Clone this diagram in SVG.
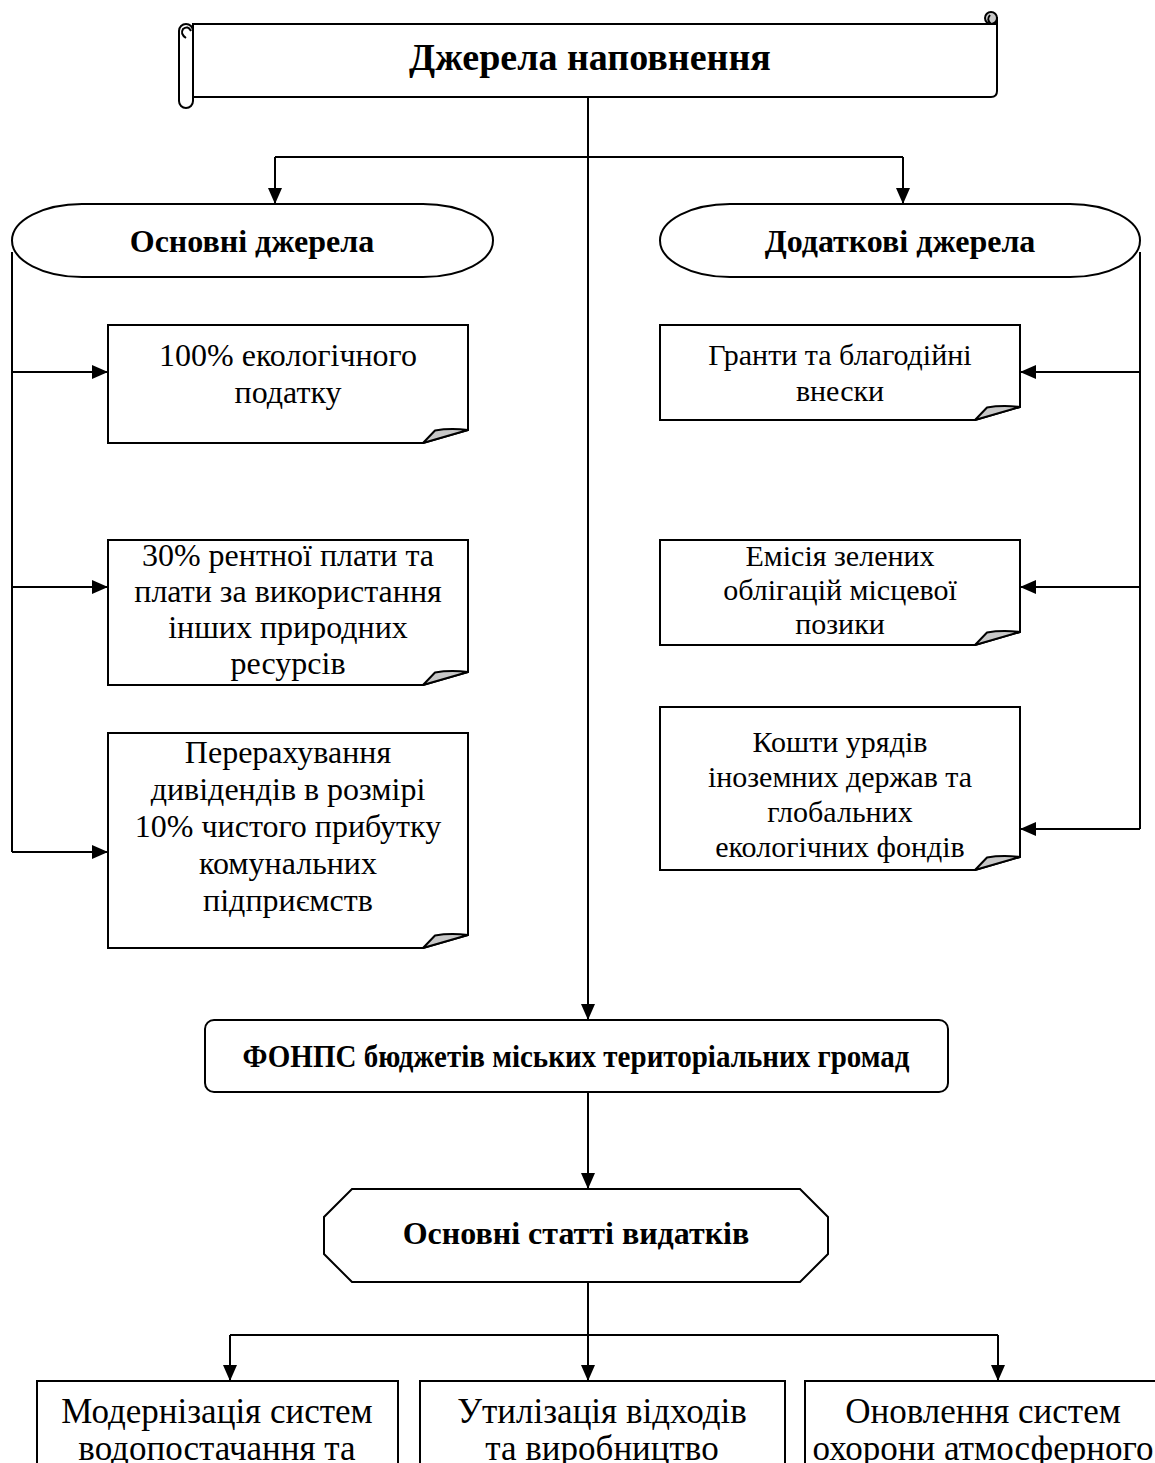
<svg xmlns="http://www.w3.org/2000/svg" width="1155" height="1463" viewBox="0 0 1155 1463">
<style>
.s{fill:#fff;stroke:#000;stroke-width:2}
.fl{fill:#c8c8c8;stroke:#000;stroke-width:2;stroke-linejoin:round}
.c{fill:none;stroke:#000;stroke-width:2}
.t{font-family:"Liberation Serif","Times New Roman",serif;font-size:30px;text-anchor:middle;fill:#000}
.tl{font-size:32px}
.tb{font-size:35px}
.b{font-family:"Liberation Serif","Times New Roman",serif;font-weight:bold;text-anchor:middle;fill:#000}
</style>
<defs>
<marker id="ar" markerUnits="userSpaceOnUse" markerWidth="16" markerHeight="14" refX="16" refY="7" orient="auto">
<path d="M0,0 L16,7 L0,14 Z" fill="#000"/>
</marker>
</defs>
<g id="connectors">
<path class="c" d="M588,97 V1020" marker-end="url(#ar)"/>
<path class="c" d="M275,157 H903"/>
<path class="c" d="M275,157 V204" marker-end="url(#ar)"/>
<path class="c" d="M903,157 V204" marker-end="url(#ar)"/>
<path class="c" d="M12,252 V852"/>
<path class="c" d="M12,372 H108" marker-end="url(#ar)"/>
<path class="c" d="M12,587 H108" marker-end="url(#ar)"/>
<path class="c" d="M12,852 H108" marker-end="url(#ar)"/>
<path class="c" d="M1140,252 V829"/>
<path class="c" d="M1140,372 H1020" marker-end="url(#ar)"/>
<path class="c" d="M1140,587 H1020" marker-end="url(#ar)"/>
<path class="c" d="M1140,829 H1020" marker-end="url(#ar)"/>
<path class="c" d="M588,1092 V1189" marker-end="url(#ar)"/>
<path class="c" d="M588,1282 V1335"/>
<path class="c" d="M230,1335 H998"/>
<path class="c" d="M230,1335 V1381" marker-end="url(#ar)"/>
<path class="c" d="M588,1335 V1381" marker-end="url(#ar)"/>
<path class="c" d="M998,1335 V1381" marker-end="url(#ar)"/>
</g>
<g id="title">
<path class="s" d="M193,24 H991 V18 H997 V91 Q997,97 991,97 H193 Z"/>
<line class="c" x1="991" y1="24" x2="997" y2="24"/>
<circle cx="991" cy="18" r="6" class="fl"/>
<path class="c" d="M991,24 Q986,20 990,15"/>
<rect class="s" x="179" y="24" width="14" height="84" rx="7"/>
<path class="c" d="M186,38 Q180,34 183,29 Q188,25 191,31"/>
<text class="b" x="590" y="70" font-size="38">Джерела наповнення</text>
</g>
<g id="main-sources">
<rect class="s" x="12" y="204" width="481" height="73" rx="70" ry="36.5"/>
<text class="b" x="252" y="252" font-size="32">Основні джерела</text>
</g>
<g id="extra-sources">
<rect class="s" x="660" y="204" width="480" height="73" rx="70" ry="36.5"/>
<text class="b" x="900" y="252" font-size="32">Додаткові джерела</text>
</g>
<g id="l1">
<path class="s" d="M108,325 H468 V430 L423,443 H108 Z"/>
<path class="fl" d="M423,443 L435,430.5 Q450,428 468,430 Z"/>
<text class="t tl" x="288" y="366">100% екологічного</text>
<text class="t tl" x="288" y="403">податку</text>
</g>
<g id="l2">
<path class="s" d="M108,540 H468 V672 L423,685 H108 Z"/>
<path class="fl" d="M423,685 L435,672.5 Q450,670 468,672 Z"/>
<text class="t tl" x="288" y="566">30% рентної плати та</text>
<text class="t tl" x="288" y="602">плати за використання</text>
<text class="t tl" x="288" y="638">інших природних</text>
<text class="t tl" x="288" y="674">ресурсів</text>
</g>
<g id="l3">
<path class="s" d="M108,733 H468 V935 L423,948 H108 Z"/>
<path class="fl" d="M423,948 L435,935.5 Q450,933 468,935 Z"/>
<text class="t tl" x="288" y="763">Перерахування</text>
<text class="t tl" x="288" y="800">дивідендів в розмірі</text>
<text class="t tl" x="288" y="837">10% чистого прибутку</text>
<text class="t tl" x="288" y="874">комунальних</text>
<text class="t tl" x="288" y="911">підприємств</text>
</g>
<g id="r1">
<path class="s" d="M660,325 H1020 V407 L975,420 H660 Z"/>
<path class="fl" d="M975,420 L987,407.5 Q1002,405 1020,407 Z"/>
<text class="t" x="840" y="365">Гранти та благодійні</text>
<text class="t" x="840" y="401">внески</text>
</g>
<g id="r2">
<path class="s" d="M660,540 H1020 V632 L975,645 H660 Z"/>
<path class="fl" d="M975,645 L987,632.5 Q1002,630 1020,632 Z"/>
<text class="t" x="840" y="566">Емісія зелених</text>
<text class="t" x="840" y="600">облігацій місцевої</text>
<text class="t" x="840" y="634">позики</text>
</g>
<g id="r3">
<path class="s" d="M660,707 H1020 V857 L975,870 H660 Z"/>
<path class="fl" d="M975,870 L987,857.5 Q1002,855 1020,857 Z"/>
<text class="t" x="840" y="752">Кошти урядів</text>
<text class="t" x="840" y="787">іноземних держав та</text>
<text class="t" x="840" y="822">глобальних</text>
<text class="t" x="840" y="857">екологічних фондів</text>
</g>
<g id="fonps">
<rect class="s" x="205" y="1020" width="743" height="72" rx="9"/>
<text class="b" x="576" y="1067" font-size="31" textLength="667" lengthAdjust="spacingAndGlyphs">ФОНПС бюджетів міських територіальних громад</text>
</g>
<g id="expenses">
<polygon class="s" points="352,1189 800,1189 828,1217 828,1254 800,1282 352,1282 324,1254 324,1217"/>
<text class="b" x="576" y="1244" font-size="32">Основні статті видатків</text>
</g>
<g id="e1">
<rect class="s" x="37" y="1381" width="361" height="100"/>
<text class="t tb" x="217" y="1423">Модернізація систем</text>
<text class="t tb" x="217" y="1460">водопостачання та</text>
</g>
<g id="e2">
<rect class="s" x="420" y="1381" width="365" height="100"/>
<text class="t tb" x="602" y="1423">Утилізація відходів</text>
<text class="t tb" x="602" y="1460">та виробництво</text>
</g>
<g id="e3">
<rect class="s" x="805" y="1381" width="360" height="100"/>
<text class="t tb" x="983" y="1423">Оновлення систем</text>
<text class="t tb" x="983" y="1460">охорони атмосферного</text>
</g>
</svg>
